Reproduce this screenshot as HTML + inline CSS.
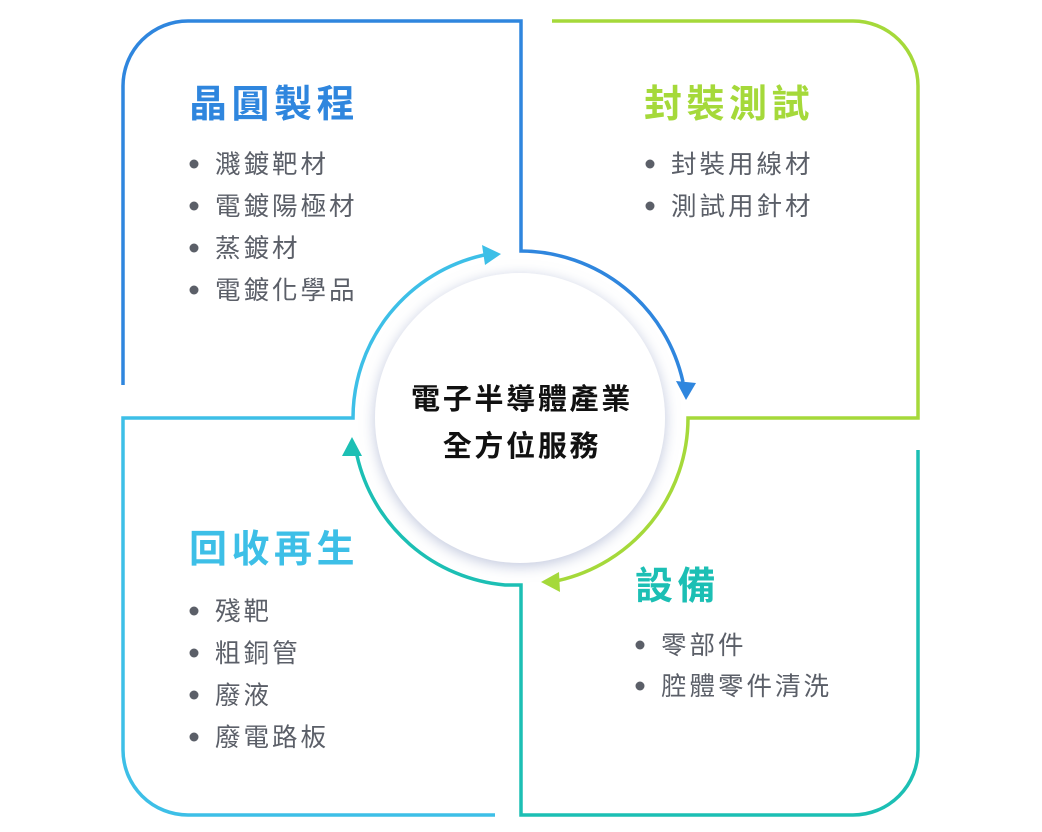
<!DOCTYPE html>
<html><head><meta charset="utf-8"><style>
html,body{margin:0;padding:0;background:#fff;width:1042px;height:832px;overflow:hidden}
svg{display:block}
.t{font-family:"Liberation Sans","Noto Sans CJK TC",sans-serif;font-weight:bold;font-size:38px;letter-spacing:4.5px}
.i{font-family:"Liberation Sans","Noto Sans CJK TC",sans-serif;font-size:25.5px;fill:#5b5f68;letter-spacing:3px}
.c{font-family:"Liberation Sans","Noto Sans CJK TC",sans-serif;font-weight:bold;font-size:29px;fill:#111;letter-spacing:2.7px}
</style></head><body>
<svg width="1042" height="832" viewBox="0 0 1042 832">
<defs>
<filter id="sh" x="-30%" y="-30%" width="160%" height="160%">
<feDropShadow dx="0" dy="3" stdDeviation="7" flood-color="#8a98c0" flood-opacity="0.55"/>
</filter>
</defs>
<g fill="none" stroke-width="3.5">
<path d="M123 385 V86 A65 65 0 0 1 188 21 H521 V251 A167 167 0 0 1 683 382" stroke="#2f86de"/>
<path d="M552 21 H853 A65 65 0 0 1 918 86 V418 H688 A167 167 0 0 1 558 580.6" stroke="#a5d93a"/>
<path d="M918 450 V750 A65 65 0 0 1 853 815 H521 V585 H505 A167 167 0 0 1 357 455.6" stroke="#1cbfb4"/>
<path d="M495 815 H188 A65 65 0 0 1 123 750 V418 H353 A167 167 0 0 1 484 255" stroke="#3dbfe7"/>
</g>
<polygon points="686,400 676,381 696,383" fill="#2f86de"/>
<polygon points="541,582 559,572 560,592" fill="#a5d93a"/>
<polygon points="352,437 342,456 362,456" fill="#1cbfb4"/>
<polygon points="501,254 482,245 485,265" fill="#3dbfe7"/>
<circle cx="520" cy="418" r="145" fill="#fff" filter="url(#sh)"/>
<text class="c" x="522" y="409" text-anchor="middle">電子半導體產業</text>
<text class="c" x="522" y="456" text-anchor="middle">全方位服務</text>

<text class="t" x="189" y="117" fill="#2f86de">晶圓製程</text>
<g fill="#5b5f68"><circle cx="194" cy="164" r="4.5"/><circle cx="194" cy="206" r="4.5"/><circle cx="194" cy="248" r="4.5"/><circle cx="194" cy="290" r="4.5"/></g>
<text class="i" x="215" y="173">濺鍍靶材</text>
<text class="i" x="215" y="215">電鍍陽極材</text>
<text class="i" x="215" y="257">蒸鍍材</text>
<text class="i" x="215" y="299">電鍍化學品</text>

<text class="t" x="644" y="117" fill="#a5d93a">封裝測試</text>
<g fill="#5b5f68"><circle cx="650" cy="164" r="4.5"/><circle cx="650" cy="206" r="4.5"/></g>
<text class="i" x="671" y="173">封裝用線材</text>
<text class="i" x="671" y="215">測試用針材</text>

<text class="t" x="635" y="599" fill="#1cbfb4">設備</text>
<g fill="#5b5f68"><circle cx="640" cy="645" r="4.5"/><circle cx="640" cy="686" r="4.5"/></g>
<text class="i" x="661" y="654">零部件</text>
<text class="i" x="661" y="695">腔體零件清洗</text>

<text class="t" x="189" y="562" fill="#3dbfe7">回收再生</text>
<g fill="#5b5f68"><circle cx="194" cy="611" r="4.5"/><circle cx="194" cy="653" r="4.5"/><circle cx="194" cy="695" r="4.5"/><circle cx="194" cy="737" r="4.5"/></g>
<text class="i" x="215" y="620">殘靶</text>
<text class="i" x="215" y="662">粗銅管</text>
<text class="i" x="215" y="704">廢液</text>
<text class="i" x="215" y="746">廢電路板</text>
</svg>
</body></html>
